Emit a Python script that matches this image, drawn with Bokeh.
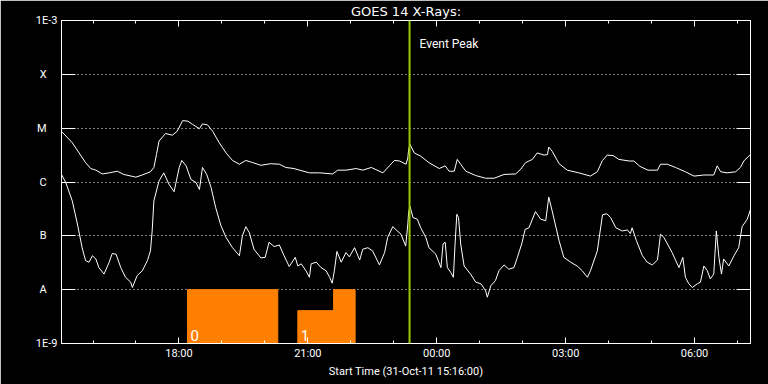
from bokeh.plotting import figure
from bokeh.models import FixedTicker, LinearAxis, Label, Range1d, Grid, Span
from bokeh.embed import file_html
from bokeh.resources import INLINE
from bokeh.core.properties import value

FONT = "Roboto"

# ---------------- data ----------------
START_TIME = "15:16"
START_LABEL = "Start Time (31-Oct-11 15:16:00)"
TITLE = "GOES 14 X-Rays:"

# hours since start, log10 flux (W/m^2), long channel (1-8 A)
long_t = [0.00, 0.25, 0.41, 0.56, 0.68, 0.80, 0.95, 1.11, 1.30, 1.45,
          1.73, 1.88, 2.07, 2.15, 2.21, 2.27, 2.42, 2.58, 2.69, 2.82,
          2.94, 3.05, 3.21, 3.28, 3.40, 3.52, 3.67, 3.83, 3.98, 4.14,
          4.29, 4.45, 4.64, 4.87, 5.07, 5.22, 5.41, 5.54, 5.77, 6.01,
          6.31, 6.43, 6.62, 6.86, 7.01, 7.21, 7.48, 7.63, 7.75, 7.87,
          8.02, 8.06, 8.08, 8.11, 8.21, 8.36, 8.55, 8.79, 8.93, 9.02,
          9.14, 9.21, 9.29, 9.41, 9.64, 9.87, 10.07, 10.30, 10.57, 10.69,
          10.80, 10.96, 11.07, 11.23, 11.31, 11.34, 11.42, 11.58, 11.77, 12.04,
          12.31, 12.47, 12.59, 12.70, 12.84, 12.97, 13.21, 13.32, 13.46, 13.65,
          13.87, 13.94, 14.10, 14.29, 14.52, 14.72, 14.95, 15.18, 15.26, 15.34,
          15.49, 15.69, 15.80, 15.88, 16.03]
long_v = [-5.06, -5.27, -5.46, -5.64, -5.75, -5.78, -5.85, -5.83, -5.80, -5.86,
          -5.91, -5.87, -5.81, -5.73, -5.49, -5.24, -5.10, -5.13, -5.06, -4.86,
          -4.87, -4.93, -5.01, -4.92, -4.94, -5.06, -5.27, -5.46, -5.60, -5.67,
          -5.60, -5.64, -5.69, -5.66, -5.67, -5.73, -5.75, -5.78, -5.83, -5.83,
          -5.85, -5.78, -5.78, -5.75, -5.78, -5.73, -5.83, -5.70, -5.60, -5.61,
          -5.67, -5.55, -5.39, -5.30, -5.46, -5.52, -5.64, -5.75, -5.70, -5.80,
          -5.80, -5.58, -5.67, -5.80, -5.88, -5.93, -5.93, -5.86, -5.85, -5.76,
          -5.64, -5.58, -5.46, -5.50, -5.49, -5.35, -5.43, -5.66, -5.78, -5.83,
          -5.89, -5.81, -5.60, -5.50, -5.51, -5.58, -5.61, -5.61, -5.71, -5.78,
          -5.78, -5.67, -5.67, -5.73, -5.81, -5.89, -5.87, -5.87, -5.70, -5.81,
          -5.83, -5.81, -5.73, -5.61, -5.49]

# short channel (0.5-4 A)
short_t = [0.00, 0.10, 0.25, 0.37, 0.48, 0.56, 0.64, 0.72, 0.80, 0.87,
           0.99, 1.11, 1.18, 1.27, 1.38, 1.49, 1.61, 1.65, 1.76, 1.88,
           2.00, 2.07, 2.11, 2.15, 2.27, 2.38, 2.50, 2.62, 2.74, 2.80,
           2.90, 3.01, 3.13, 3.21, 3.28, 3.38, 3.48, 3.59, 3.71, 3.83,
           3.98, 4.14, 4.21, 4.29, 4.37, 4.48, 4.64, 4.74, 4.83, 4.95,
           5.07, 5.18, 5.30, 5.44, 5.50, 5.58, 5.69, 5.77, 5.81, 5.93,
           6.04, 6.16, 6.24, 6.30, 6.35, 6.41, 6.51, 6.62, 6.70, 6.82,
           6.94, 7.01, 7.13, 7.24, 7.40, 7.52, 7.59, 7.71, 7.79, 7.90,
           8.01, 8.06, 8.08, 8.11, 8.18, 8.28, 8.36, 8.48, 8.55, 8.71,
           8.83, 8.88, 8.93, 8.98, 9.06, 9.12, 9.16, 9.20, 9.24, 9.29,
           9.37, 9.52, 9.64, 9.76, 9.87, 9.91, 9.99, 10.10, 10.18, 10.30,
           10.41, 10.53, 10.61, 10.71, 10.79, 10.88, 11.03, 11.15, 11.27, 11.34,
           11.42, 11.58, 11.69, 11.85, 12.00, 12.12, 12.24, 12.31, 12.47, 12.59,
           12.69, 12.78, 12.90, 13.05, 13.17, 13.24, 13.28, 13.38, 13.52, 13.63,
           13.75, 13.87, 13.94, 14.02, 14.21, 14.37, 14.46, 14.52, 14.60, 14.68,
           14.80, 14.87, 14.95, 15.03, 15.10, 15.18, 15.24, 15.30, 15.36, 15.41,
           15.53, 15.65, 15.76, 15.84, 15.96, 16.03]
short_v = [-5.86, -6.01, -6.35, -6.78, -7.22, -7.46, -7.49, -7.37, -7.43, -7.59,
           -7.71, -7.49, -7.33, -7.34, -7.59, -7.77, -7.86, -7.96, -7.74, -7.65,
           -7.46, -7.28, -6.91, -6.35, -5.98, -5.83, -6.04, -6.18, -5.73, -5.60,
           -5.70, -5.95, -6.01, -6.14, -5.73, -5.86, -6.10, -6.48, -6.81, -7.03,
           -7.22, -7.37, -7.00, -6.83, -6.94, -7.25, -7.41, -7.40, -7.12, -7.20,
           -7.17, -7.37, -7.57, -7.40, -7.56, -7.52, -7.65, -7.77, -7.52, -7.49,
           -7.59, -7.65, -7.77, -7.88, -7.65, -7.29, -7.49, -7.31, -7.39, -7.22,
           -7.45, -7.25, -7.22, -7.28, -7.54, -7.31, -7.03, -6.83, -6.89, -6.97,
           -7.19, -6.78, -6.55, -6.45, -6.66, -6.69, -6.85, -7.03, -7.22, -7.34,
           -7.59, -7.15, -7.12, -7.59, -7.68, -7.77, -7.15, -6.60, -6.66, -7.15,
           -7.56, -7.71, -7.86, -7.89, -8.02, -8.14, -7.93, -7.83, -7.65, -7.54,
           -7.62, -7.59, -7.40, -7.15, -6.88, -6.85, -6.55, -6.69, -6.72, -6.28,
           -6.54, -7.09, -7.40, -7.49, -7.56, -7.65, -7.77, -7.65, -7.28, -6.61,
           -6.59, -6.66, -6.85, -6.91, -6.89, -6.96, -6.85, -7.09, -7.37, -7.49,
           -7.54, -7.45, -6.97, -7.03, -7.31, -7.59, -7.40, -7.77, -7.89, -7.96,
           -7.89, -7.86, -7.56, -7.65, -7.80, -7.71, -6.91, -7.40, -7.71, -7.43,
           -7.56, -7.37, -7.22, -6.83, -6.69, -6.52]

# observing-mode segments (clock times), top level (log10)
mode_start = ["18:12", "20:46", "21:36"]
mode_end = ["20:18", "21:36", "22:06"]
mode_top = [-8.0, -8.39, -8.0]
mode_labels = ["0", "1"]

EVENT_TIME = "23:22"
END_HOURS = 16.035

x_tick_labels = ["18:00", "21:00", "00:00", "03:00", "06:00"]
x_minor_labels = ["16:00", "17:00", "19:00", "20:00", "22:00", "23:00", "01:00",
                  "02:00", "04:00", "05:00", "07:00"]
y_ticks = [-9, -8, -7, -6, -5, -4, -3]
y_tick_labels = ["1E-9", "A", "B", "C", "M", "X", "1E-3"]
grid_levels = [-8, -7, -6, -5, -4]


def hours_since_start(clock):
    h, m = map(int, clock.split(":"))
    sh, sm = map(int, START_TIME.split(":"))
    return ((h * 60 + m) - (sh * 60 + sm)) % 1440 / 60.0


x_major = [hours_since_start(c) for c in x_tick_labels]
x_minor = sorted(hours_since_start(c) for c in x_minor_labels + x_tick_labels)
ms = [hours_since_start(c) for c in mode_start]
me = [hours_since_start(c) for c in mode_end]
event_t = hours_since_start(EVENT_TIME)

# ---------------- figure ----------------
p = figure(width=768, height=384, output_backend="svg", toolbar_location=None,
           x_range=Range1d(0, END_HOURS), y_range=Range1d(-9, -3),
           x_axis_location=None, y_axis_location=None,
           background_fill_color="black", border_fill_color="black",
           min_border_left=61, min_border_right=18, min_border_top=19,
           min_border_bottom=41)
p.outline_line_color = "white"
p.outline_line_width = 1
for g in list(p.center):
    if isinstance(g, Grid):
        g.visible = False

p.add_layout(Grid(dimension=1, ticker=FixedTicker(ticks=grid_levels),
                  grid_line_color="white", grid_line_dash="1 3", grid_line_width=1))


def style_axis(ax, labels=True):
    ax.axis_line_color = "white"
    ax.major_tick_line_color = "white"
    ax.minor_tick_line_color = "white"
    ax.major_tick_out = 0
    ax.minor_tick_out = 0
    ax.major_label_text_color = "white"
    ax.major_label_text_font = FONT
    ax.axis_label_text_color = "white"
    ax.axis_label_text_font = FONT
    ax.axis_label_text_font_style = "normal"
    if not labels:
        ax.major_label_standoff = 0


# GOES class letters sit further from the axis than the decade labels
ylab = {t: (l if l.startswith("1E") else l + "\u00a0" * 4)
        for t, l in zip(y_ticks, y_tick_labels)}
left = LinearAxis(ticker=FixedTicker(ticks=y_ticks, minor_ticks=[]),
                  major_label_overrides=ylab)
style_axis(left)
left.major_tick_in = 14
left.major_label_text_font_size = "11px"
left.major_label_standoff = 4
p.add_layout(left, "left")

right = LinearAxis(ticker=FixedTicker(ticks=y_ticks, minor_ticks=[]),
                   major_label_overrides={t: "" for t in y_ticks})
style_axis(right, labels=False)
right.major_tick_in = 14
p.add_layout(right, "right")

xlab = {t: l for t, l in zip(x_major, x_tick_labels)}
bottom = LinearAxis(ticker=FixedTicker(ticks=x_major, minor_ticks=x_minor),
                    major_label_overrides=xlab, axis_label=START_LABEL)
style_axis(bottom)
bottom.major_tick_in = 6
bottom.minor_tick_in = 3
bottom.major_label_text_font_size = "11px"
bottom.major_label_standoff = 3
bottom.axis_label_text_font_size = "11px"
bottom.axis_label_standoff = 2
p.add_layout(bottom, "below")

# top axis carries the title as its axis label
top = LinearAxis(ticker=FixedTicker(ticks=x_major, minor_ticks=x_minor),
                 major_label_overrides={t: "" for t in x_major},
                 axis_label=TITLE)
style_axis(top, labels=False)
top.major_label_text_font_size = "1px"
top.axis_label_text_font = "DejaVu Sans"
top.axis_label_text_font_size = "13px"
top.axis_label_standoff = 2
top.major_tick_in = 6
top.minor_tick_in = 3
p.add_layout(top, "above")

# mode bars
p.quad(left=ms, right=me, bottom=[-9] * len(ms), top=mode_top,
       fill_color="#ff8000", line_color="#ff8000", line_width=1)
p.text(x=ms[:2], y=[-9, -9], text=mode_labels, x_offset=3, y_offset=-3,
       text_baseline="bottom", text_align="left", text_color="white",
       text_font=value(FONT), text_font_size="15px")

# curves
p.line(long_t, long_v, line_color="white", line_width=1)
p.line(short_t, short_v, line_color="white", line_width=1)

# event peak
p.add_layout(Span(location=event_t, dimension="height", line_color="#99cc00",
                  line_width=2))
p.add_layout(Label(x=event_t, y=-3.44, x_offset=10, text="Event Peak",
                   text_align="left", text_baseline="middle", text_color="white",
                   text_font=FONT, text_font_size="12px"))

# mode labels in left margin
for txt, yy, off in [("Sit & Stare", -7.44, -59), ("mode", -7.67, -48),
                     ("Scan mode", -8.65, -59)]:
    p.add_layout(Label(x=0, y=yy, x_offset=off, text=txt, text_align="left",
                       text_baseline="middle", text_color="#ffff00",
                       text_font=FONT, text_font_size="11px"))

open("out.html", "w").write(file_html(p, INLINE))
